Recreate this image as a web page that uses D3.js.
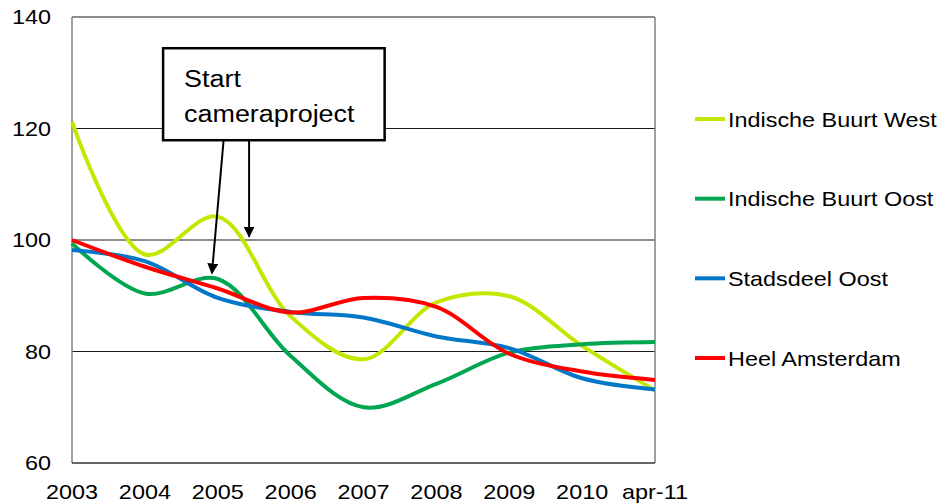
<!DOCTYPE html>
<html>
<head>
<meta charset="utf-8">
<script src="https://cdn.jsdelivr.net/npm/d3@7"></script>
<style>
  html, body { margin: 0; padding: 0; background: #fff; }
  svg { display: block; font-family: "Liberation Sans", Arial, sans-serif; }
</style>
</head>
<body>
<svg id="chart" width="949" height="504"></svg>
<script>
// ---- data ----
const categories = ["2003", "2004", "2005", "2006", "2007", "2008", "2009", "2010", "apr-11"];
const indischeBuurtWest = [121.2, 97.4, 104.2, 86.3, 78.6, 88.8, 89.9, 81.0, 73.0];
const indischeBuurtOost = [99.4, 90.4, 93.0, 79.2, 70.0, 74.2, 79.8, 81.3, 81.7];
const stadsdeelOost     = [98.2, 96.2, 89.6, 87.1, 86.1, 82.7, 80.6, 75.2, 73.2];
const heelAmsterdam     = [100.0, 95.2, 91.3, 87.0, 89.6, 88.0, 79.6, 76.4, 74.9];
const seriesNames = ["Indische Buurt West", "Indische Buurt Oost", "Stadsdeel Oost", "Heel Amsterdam"];
const yTicks = [60, 80, 100, 120, 140];
const annotationLines = ["Start", "cameraproject"];
// annotation box (category index / value units) and arrow targets
const annotationBox = { i0: 1.25, i1: 4.29, v0: 134.4, v1: 117.9 };
const annotationArrows = [
  { fromI: 2.08, toI: 1.92, toV: 94.0 },
  { fromI: 2.43, toI: 2.43, toV: 100.6 }
];

// ---- styles ----
const colors = ["#c4e600", "#00a650", "#0077c8", "#ff0000"];
const seriesValues = [indischeBuurtWest, indischeBuurtOost, stadsdeelOost, heelAmsterdam];
const SX = 1.17;

const svg = d3.select("#chart");
const M = { left: 72, right: 655, top: 17, bottom: 463 };

const x = d3.scalePoint().domain(categories).range([M.left, M.right]);
const xi = d3.scaleLinear().domain([0, categories.length - 1]).range([M.left, M.right]);
const y = d3.scaleLinear().domain([60, 140]).range([M.bottom, M.top]);

// gridlines
svg.append("g").selectAll("line").data(yTicks.filter(t => t > 60)).join("line")
  .attr("x1", M.left).attr("x2", M.right)
  .attr("y1", d => y(d)).attr("y2", d => y(d))
  .attr("stroke", "#1a1a1a").attr("stroke-width", 1.2);

// frame: left & right axis lines, bottom axis
svg.append("line").attr("x1", M.left).attr("x2", M.left).attr("y1", M.top).attr("y2", M.bottom)
  .attr("stroke", "#808080").attr("stroke-width", 1.5);
svg.append("line").attr("x1", M.right).attr("x2", M.right).attr("y1", M.top).attr("y2", M.bottom)
  .attr("stroke", "#808080").attr("stroke-width", 1.5);
svg.append("line").attr("x1", M.left).attr("x2", M.right).attr("y1", M.bottom).attr("y2", M.bottom)
  .attr("stroke", "#333").attr("stroke-width", 1.5);

// y tick labels
svg.append("g").selectAll("text").data(yTicks).join("text")
  .attr("transform", d => `translate(51,${y(d)}) scale(${SX},1)`)
  .attr("text-anchor", "end").attr("dy", "0.35em")
  .attr("font-size", 20).attr("fill", "#000")
  .text(d => d);

// x tick labels
svg.append("g").selectAll("text").data(categories).join("text")
  .attr("transform", d => `translate(${x(d)},499) scale(${SX},1)`)
  .attr("text-anchor", "middle")
  .attr("font-size", 20).attr("fill", "#000")
  .text(d => d);

// lines
const line = d3.line()
  .x((d, i) => x(categories[i]))
  .y(d => y(d))
  .curve(d3.curveCatmullRom.alpha(0.5));

svg.append("g").selectAll("path").data(seriesValues).join("path")
  .attr("d", d => line(d))
  .attr("fill", "none")
  .attr("stroke", (d, i) => colors[i])
  .attr("stroke-width", 4)
  .attr("stroke-linejoin", "round")
  .attr("stroke-linecap", "butt");

// annotation box
const bx0 = xi(annotationBox.i0), bx1 = xi(annotationBox.i1);
const by0 = y(annotationBox.v0), by1 = y(annotationBox.v1);
svg.append("rect")
  .attr("x", bx0).attr("y", by0)
  .attr("width", bx1 - bx0).attr("height", by1 - by0)
  .attr("fill", "#fff").attr("stroke", "#000").attr("stroke-width", 2.5);
svg.append("g").selectAll("text").data(annotationLines).join("text")
  .attr("transform", (d, i) => `translate(${bx0 + 21},${by0 + 39 + i * 35}) scale(${SX},1)`)
  .attr("font-size", 23).attr("fill", "#000")
  .text(d => d);

// arrows
const defs = svg.append("defs");
defs.append("marker").attr("id", "arrow")
  .attr("viewBox", "0 0 10 10").attr("refX", 9).attr("refY", 5)
  .attr("markerWidth", 5.5).attr("markerHeight", 5.5)
  .attr("markerUnits", "strokeWidth")
  .attr("orient", "auto")
  .append("path").attr("d", "M0,0 L10,5 L0,10 z").attr("fill", "#000");

svg.append("g").selectAll("line").data(annotationArrows).join("line")
  .attr("x1", d => xi(d.fromI)).attr("y1", by1)
  .attr("x2", d => xi(d.toI)).attr("y2", d => y(d.toV))
  .attr("stroke", "#000").attr("stroke-width", 2)
  .attr("marker-end", "url(#arrow)");

// legend
const legendY = d3.scalePoint().domain(seriesNames).range([119, 358]);
const lg = svg.append("g").selectAll("g").data(seriesNames).join("g")
  .attr("transform", d => `translate(695,${legendY(d)})`);
lg.append("line").attr("x1", 0).attr("x2", 30).attr("y1", 0).attr("y2", 0)
  .attr("stroke", (d, i) => colors[i]).attr("stroke-width", 4);
lg.append("text")
  .attr("transform", `translate(33,7.5) scale(${SX},1)`)
  .attr("font-size", 20).attr("fill", "#000")
  .text(d => d);
</script>
</body>
</html>
